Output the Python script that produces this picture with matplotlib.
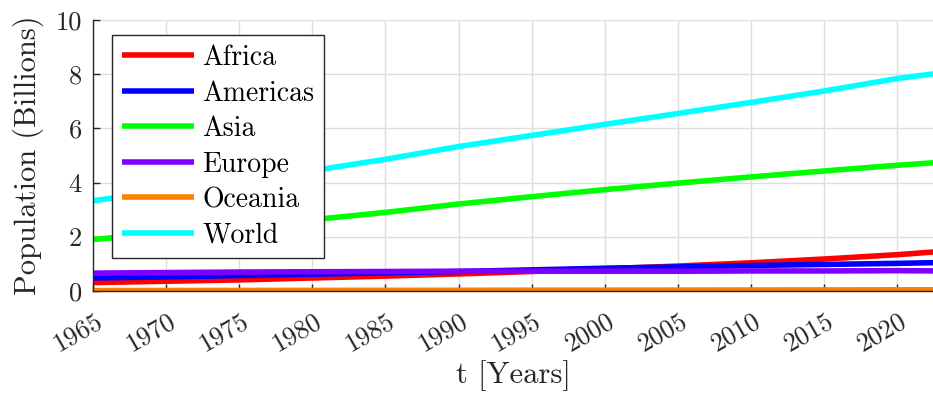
import matplotlib
matplotlib.use("Agg")
import matplotlib.pyplot as plt
import matplotlib.transforms as mtransforms

plt.rcParams['font.family'] = 'serif'
plt.rcParams['font.serif'] = ['cmr10']
plt.rcParams['axes.formatter.use_mathtext'] = True
plt.rcParams['mathtext.fontset'] = 'cm'

years = [1965, 1970, 1975, 1980, 1985, 1990, 1995, 2000, 2005, 2010, 2015, 2020, 2023]
africa = [0.31, 0.36, 0.41, 0.48, 0.55, 0.63, 0.72, 0.82, 0.92, 1.04, 1.18, 1.34, 1.46]
americas = [0.48, 0.52, 0.57, 0.62, 0.67, 0.72, 0.78, 0.84, 0.89, 0.94, 0.98, 1.02, 1.05]
asia = [1.90, 2.14, 2.39, 2.63, 2.90, 3.21, 3.48, 3.74, 3.98, 4.21, 4.43, 4.64, 4.75]
europe = [0.66, 0.68, 0.70, 0.71, 0.72, 0.73, 0.73, 0.73, 0.73, 0.74, 0.74, 0.75, 0.74]
oceania = [0.017, 0.019, 0.021, 0.023, 0.025, 0.027, 0.029, 0.031, 0.034, 0.037, 0.040, 0.043, 0.045]
world = [3.33, 3.70, 4.07, 4.44, 4.86, 5.33, 5.74, 6.15, 6.55, 6.96, 7.38, 7.84, 8.05]

series = [("Africa", africa, "#ff0000"),
          ("Americas", americas, "#0000ff"),
          ("Asia", asia, "#00ff00"),
          ("Europe", europe, "#8000ff"),
          ("Oceania", oceania, "#ff8000"),
          ("World", world, "#00ffff")]

xticks = list(range(1965, 2021, 5))
yticks = [0, 2, 4, 6, 8, 10]

fig = plt.figure(figsize=(9.33, 3.94), dpi=100)
ax = fig.add_axes([93/933, 1-291/394, 1-93/933, (291-20)/394])

for name, vals, col in series:
    ax.plot(years, vals, color=col, lw=4, label=name, solid_capstyle='butt')

ax.set_xlim(1965, 2022.45)
ax.set_ylim(0, 10)
ax.set_xticks(xticks)
ax.set_xticklabels([str(v) for v in xticks], rotation=30, ha='right', va='center',
                   rotation_mode='anchor')
ax.set_yticks(yticks)
ax.set_yticklabels([str(v) for v in yticks])
dark = '#262626'
ax.tick_params(axis='x', direction='in', length=5, width=1, colors=dark, labelsize=19, pad=20.5)
ax.tick_params(axis='y', direction='in', length=5, width=1, colors=dark, labelsize=19, pad=8)
off = mtransforms.ScaledTranslation(7.5/100, 0, fig.dpi_scale_trans)
for lab in ax.get_xticklabels():
    lab.set_transform(lab.get_transform() + off)

ax.grid(True, color='#dedede', lw=1)
ax.set_axisbelow(True)
for s in ['top', 'right']:
    ax.spines[s].set_visible(False)
for s in ['left', 'bottom']:
    ax.spines[s].set_color(dark)
    ax.spines[s].set_linewidth(1)

ax.set_ylabel("Population (Billions)", fontsize=22, color=dark)
ax.yaxis.set_label_coords(-0.058, 0.5)
ax.set_xlabel("t [Years]", fontsize=22, color=dark)
ax.xaxis.set_label_coords(0.5, -0.255)

leg = ax.legend(loc='upper left', bbox_to_anchor=((112-93)/840, (291-35)/271),
                borderaxespad=0, fontsize=20, frameon=True, fancybox=False,
                framealpha=1, edgecolor=dark, handlelength=2.6, handletextpad=0.3,
                labelspacing=0.33, borderpad=0.35)
leg.get_frame().set_linewidth(1)

fig.savefig("out.png", dpi=100)
